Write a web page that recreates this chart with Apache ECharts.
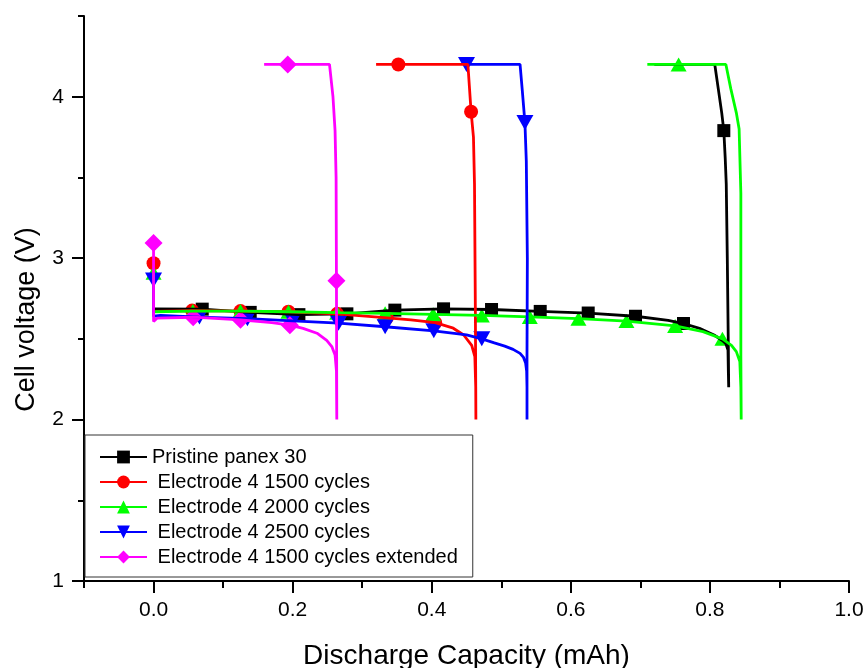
<!DOCTYPE html>
<html><head><meta charset="utf-8">
<script src="https://cdn.jsdelivr.net/npm/echarts@6/dist/echarts.min.js"></script>
<style>html,body{margin:0;padding:0;background:#fff}#c{width:866px;height:668px}</style>
</head><body><div id="c"></div>
<script>
// ---------- data ----------
const seriesNames = ['Pristine panex 30', ' Electrode 4 1500 cycles', ' Electrode 4 2000 cycles', ' Electrode 4 2500 cycles', ' Electrode 4 1500 cycles extended'];
const xTickLabels = [0.0, 0.2, 0.4, 0.6, 0.8, 1.0];
const yTickLabels = [1, 2, 3, 4];

const pristineCurve = [[0,2.685],[0.07,2.684],[0.139,2.664],[0.209,2.65],[0.278,2.655],[0.347,2.678],[0.417,2.686],[0.486,2.682],[0.556,2.67],[0.625,2.66],[0.693,2.64],[0.74,2.615],[0.762,2.595],[0.785,2.565],[0.806,2.524],[0.818,2.49],[0.823,2.47],[0.826,2.43],[0.8265,2.3],[0.827,2.2],[0.8265,2.45],[0.825,3.0],[0.8235,3.46],[0.822,3.62],[0.82,3.79],[0.817,3.9],[0.812,4.05],[0.807,4.2],[0.72,4.2]];
const pristineMarkers = [[0.07,2.684],[0.139,2.664],[0.209,2.65],[0.278,2.655],[0.347,2.678],[0.417,2.686],[0.486,2.682],[0.556,2.67],[0.625,2.66],[0.693,2.64],[0.762,2.595],[0.82,3.79]];

const e1500Curve = [[0,2.968],[0,2.67],[0.0555,2.675],[0.125,2.672],[0.194,2.668],[0.264,2.655],[0.336,2.63],[0.37,2.618],[0.405,2.6],[0.431,2.566],[0.446,2.524],[0.4575,2.46],[0.462,2.39],[0.4633,2.2],[0.4635,2.0],[0.4628,2.64],[0.4615,3.46],[0.46,3.75],[0.4566,3.907],[0.452,4.2],[0.32,4.2]];
const e1500Markers = [[0,2.968],[0.0555,2.675],[0.125,2.672],[0.194,2.668],[0.264,2.655],[0.3355,2.63],[0.405,2.6],[0.352,4.2],[0.4566,3.907]];

const e2000Curve = [[0,2.91],[0,2.668],[0.0565,2.672],[0.125,2.672],[0.194,2.668],[0.264,2.662],[0.333,2.658],[0.402,2.652],[0.472,2.645],[0.541,2.636],[0.611,2.625],[0.68,2.61],[0.75,2.58],[0.79,2.545],[0.818,2.5],[0.831,2.46],[0.838,2.421],[0.843,2.36],[0.8445,2.2],[0.845,2.0],[0.8445,2.4],[0.8445,3.4],[0.842,3.8],[0.838,3.9],[0.83,4.05],[0.823,4.2],[0.71,4.2]];
const e2000Markers = [[0,2.91],[0.0565,2.672],[0.125,2.672],[0.194,2.668],[0.264,2.662],[0.333,2.658],[0.402,2.652],[0.472,2.645],[0.541,2.636],[0.611,2.625],[0.68,2.61],[0.75,2.58],[0.818,2.5],[0.755,4.2]];

const e2500Curve = [[0,2.865],[0,2.64],[0.01,2.645],[0.066,2.635],[0.135,2.625],[0.2,2.612],[0.266,2.597],[0.333,2.575],[0.403,2.55],[0.45,2.525],[0.472,2.5],[0.49,2.475],[0.505,2.455],[0.517,2.435],[0.527,2.41],[0.532,2.385],[0.535,2.35],[0.5365,2.3],[0.537,2.2],[0.537,2.0],[0.537,2.4],[0.5375,3.0],[0.536,3.6],[0.534,3.84],[0.53,4.05],[0.527,4.2],[0.455,4.2]];
const e2500Markers = [[0,2.865],[0.066,2.635],[0.135,2.625],[0.2,2.612],[0.266,2.597],[0.333,2.575],[0.403,2.55],[0.472,2.5],[0.45,4.2],[0.534,3.84]];

const e1500extCurve = [[0,3.094],[0,2.607],[0.005,2.628],[0.057,2.634],[0.125,2.618],[0.17,2.6],[0.196,2.585],[0.215,2.565],[0.235,2.535],[0.249,2.49],[0.2566,2.45],[0.261,2.4],[0.263,2.3],[0.2635,2.0],[0.263,2.86],[0.2625,3.5],[0.261,3.79],[0.258,4.0],[0.253,4.2],[0.159,4.2]];
const e1500extMarkers = [[0,3.094],[0.057,2.634],[0.125,2.618],[0.196,2.585],[0.263,2.86],[0.193,4.2]];

// ---------- styles ----------
const curves = [pristineCurve, e1500Curve, e2000Curve, e2500Curve, e1500extCurve];
const markers = [pristineMarkers, e1500Markers, e2000Markers, e2500Markers, e1500extMarkers];
const colors = ['#000000', '#FF0000', '#00FF00', '#0000FF', '#FF00FF'];
const symbols = ['rect', 'circle', 'triangle', 'path://M0,0 L10,0 L5,9 Z', 'diamond'];
const symbolSizes = [13, 14, [16, 14], [17, 15], [18, 18]];
const FONT = 'Arial, "Liberation Sans", sans-serif';

const series = [];
seriesNames.forEach((name, i) => {
  series.push({
    type: 'line', name: name, data: curves[i],
    showSymbol: false, symbol: symbols[i], symbolSize: symbolSizes[i],
    lineStyle: { color: colors[i], width: 2.8 },
    itemStyle: { color: colors[i] },
    emphasis: { disabled: true }, silent: true, animation: false
  });
  series.push({
    type: 'scatter', name: name, data: markers[i],
    symbol: symbols[i], symbolSize: symbolSizes[i],
    itemStyle: { color: colors[i], opacity: 1 },
    emphasis: { disabled: true }, silent: true, animation: false
  });
});

const chart = echarts.init(document.getElementById('c'), null, { renderer: 'canvas' });
chart.setOption({
  backgroundColor: '#ffffff',
  animation: false,
  grid: { left: 84, right: 17, top: 16, bottom: 87, containLabel: false, outerBoundsMode: 'none' },
  legend: {
    data: seriesNames, orient: 'vertical', left: 85, top: 435,
    itemWidth: 47, itemHeight: 16, itemGap: 5,
    padding: [12, 15, 10, 14],
    borderColor: '#333', borderWidth: 1, backgroundColor: '#ffffff',
    textStyle: { fontFamily: FONT, fontSize: 20, color: '#000' },
    selectedMode: false
  },
  xAxis: [{
    type: 'value', min: -0.1, max: 1.0, interval: 0.1, position: 'bottom',
    name: 'Discharge Capacity (mAh)', nameLocation: 'middle', nameGap: 61,
    nameTextStyle: { fontFamily: FONT, fontSize: 28, color: '#000' },
    axisLine: { show: true, onZero: false, lineStyle: { color: '#000', width: 2 } },
    axisTick: { show: true, length: 7, lineStyle: { color: '#000', width: 2 } },
    axisLabel: { fontFamily: FONT, fontSize: 21, color: '#000', margin: 19,
      formatter: v => (xTickLabels.some(t => Math.abs(t - v) < 1e-6) ? v.toFixed(1) : '') },
    splitLine: { show: false }
  }, {
    type: 'value', min: -0.1, max: 1.0, position: 'bottom',
    axisLine: { show: false, onZero: false },
    axisTick: { show: true, length: 12, customValues: xTickLabels, lineStyle: { color: '#000', width: 2 } },
    axisLabel: { show: false },
    splitLine: { show: false }
  }],
  yAxis: [{
    type: 'value', min: 1, max: 4.5, interval: 0.5, position: 'left',
    name: 'Cell voltage (V)', nameLocation: 'middle', nameGap: 44,
    nameTextStyle: { fontFamily: FONT, fontSize: 27, color: '#000', padding: [0, 42, 0, 0] },
    axisLine: { show: true, onZero: false, lineStyle: { color: '#000', width: 2 } },
    axisTick: { show: true, length: 6, lineStyle: { color: '#000', width: 2 } },
    axisLabel: { fontFamily: FONT, fontSize: 21, color: '#000', margin: 20,
      formatter: v => (yTickLabels.some(t => Math.abs(t - v) < 1e-6) ? String(v) : '') },
    splitLine: { show: false }
  }, {
    type: 'value', min: 1, max: 4.5, position: 'left', offset: 0,
    axisLine: { show: false, onZero: false },
    axisTick: { show: true, length: 12, customValues: yTickLabels, lineStyle: { color: '#000', width: 2 } },
    axisLabel: { show: false },
    splitLine: { show: false }
  }],
  series: series
});
</script>
</body></html>
